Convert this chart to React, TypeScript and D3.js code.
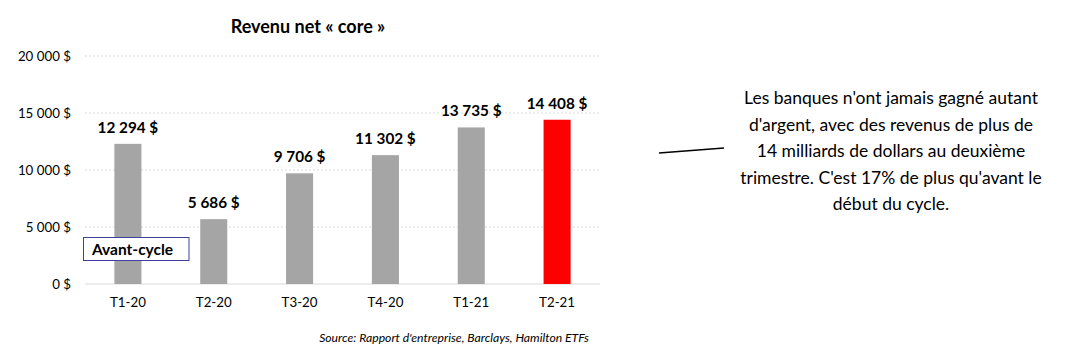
import React from "react";
import * as d3 from "d3";

const categories = ["T1-20", "T2-20", "T3-20", "T4-20", "T1-21", "T2-21"];
const values = [12294, 5686, 9706, 11302, 13735, 14408];
const yTicks = [0, 5000, 10000, 15000, 20000];
const noteLines = [
  "Les banques n'ont jamais gagné autant",
  "d'argent, avec des revenus de plus de",
  "14 milliards de dollars au deuxième",
  "trimestre. C'est 17% de plus qu'avant le",
  "début du cycle.",
];

const fmt = (v: number) => d3.format(",")(v).replace(/,/g, " ") + " $";

export default function App() {
  const W = 1069, H = 357;
  const x = d3.scaleBand().domain(categories).range([85, 600]).paddingInner(0.685).paddingOuter(0.3425);
  const y = d3.scaleLinear().domain([0, 20000]).range([284, 56]);
  const font = "Lato, 'Open Sans', sans-serif";
  return (
    <svg width={W} height={H} style={{ position: "absolute", left: 0, top: 0, background: "#fff" }} fontFamily={font}>
      <text x={308} y={33} textAnchor="middle" fontSize={18} fontWeight="bold" fill="#000">Revenu net « core »</text>
      {yTicks.map((t) => (
        <g key={t}>
          {t > 0 && (
            <line x1={85} x2={600} y1={y(t)} y2={y(t)} stroke="#d9d9d9" strokeWidth={1} strokeDasharray="2,2" />
          )}
          <text x={71} y={y(t) + 5} textAnchor="end" fontSize={13.3} fill="#000">{fmt(t)}</text>
        </g>
      ))}
      <line x1={85} x2={600} y1={y(0)} y2={y(0)} stroke="#d9d9d9" strokeWidth={1.2} />
      {categories.map((c, i) => (
        <g key={c}>
          <rect x={x(c)} y={y(values[i])} width={x.bandwidth()} height={y(0) - y(values[i])} fill={i === 5 ? "#ff0000" : "#a5a5a5"} />
          <text x={x(c)! + x.bandwidth() / 2} y={y(values[i]) - 11} textAnchor="middle" fontSize={15.3} fontWeight="bold" fill="#000">{fmt(values[i])}</text>
          <text x={x(c)! + x.bandwidth() / 2} y={307} textAnchor="middle" fontSize={13.3} fill="#000">{c}</text>
        </g>
      ))}
      <rect x={83.5} y={237.5} width={105.5} height={23} fill="#fff" stroke="#3f3fa0" strokeWidth={1} />
      <text x={92} y={254.5} fontSize={15.5} fontWeight="bold" fill="#000">Avant-cycle</text>
      <text x={589} y={342} textAnchor="end" fontSize={12.2} fontStyle="italic" fill="#000">Source: Rapport d'entreprise, Barclays, Hamilton ETFs</text>
      <line x1={659} y1={153} x2={724} y2={148} stroke="#000" strokeWidth={1.6} />
      {noteLines.map((l, i) => (
        <text key={i} x={891} y={104 + i * 26.5} textAnchor="middle" fontSize={17.5} fill="#000">{l}</text>
      ))}
    </svg>
  );
}
